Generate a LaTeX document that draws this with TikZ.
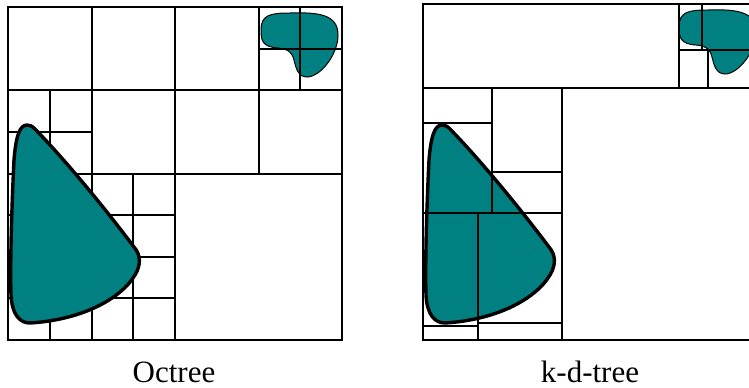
\documentclass[tikz,border=0pt]{standalone}
\usepackage{fontspec}
\setmainfont{Liberation Serif}
\usepackage{tikz}
\usetikzlibrary{positioning}
\definecolor{BlobTeal}{HTML}{008080}
\tikzset{
  % cell boundaries
  cellline/.style={line width=1pt,line cap=rect},
  % regions
  bigblob/.style={fill=BlobTeal,draw=black,line width=1.7pt},
  smallblob/.style={fill=BlobTeal,draw=black,line width=0.5pt},
  % captions
  caption/.style={font=\fontsize{15.5}{18}\selectfont,anchor=base,inner sep=0pt}
}
% outlines in pixel units (octree frame)
\newcommand{\BigBlobPath}{(27,125) .. controls (20,125) and (16,135) .. (14,160)
  .. controls (12,200) and (10,260) .. (11,295)
  .. controls (12,315) and (20,323) .. (30,323)
  .. controls (80,320) and (120,300) .. (135,275)
  .. controls (141,265) and (141,255) .. (134,247)
  .. controls (110,215) and (70,165) .. (35,129)
  .. controls (32,126) and (30,125) .. (27,125) -- cycle}
\newcommand{\SmallBlobPath}{(261,30) .. controls (261,15) and (270,13) .. (290,13)
  .. controls (320,12) and (338,15) .. (338,35)
  .. controls (338,55) and (320,77) .. (307,77)
  .. controls (298,77) and (296,68) .. (294,60)
  .. controls (292,52) and (288,49) .. (278,48)
  .. controls (262,47) and (261,40) .. (261,30) -- cycle}

\begin{document}
\begin{tikzpicture}[x=0.5pt,y=-0.5pt]
  \useasboundingbox (0,0) rectangle (749,387);
  \clip (0,0) rectangle (749,387);

  % --- Octree (left) ---
  \path[smallblob] \SmallBlobPath;
  \draw[cellline] (8,7) rectangle (342,340);
  \foreach \x in {91.5,175} \draw[cellline] (\x,7) -- (\x,340);
  \foreach \y in {90.25,173.5} \draw[cellline] (8,\y) -- (342,\y);
  \draw[cellline] (258.5,7) -- (258.5,173.5);
  \draw[cellline] (300.25,7) -- (300.25,90.25);
  \draw[cellline] (258.5,48.6) -- (342,48.6);
  \draw[cellline] (49.75,90.25) -- (49.75,340);
  \draw[cellline] (8,131.9) -- (91.5,131.9);
  \draw[cellline] (133.25,173.5) -- (133.25,340);
  \foreach \y in {215.1,256.75,298.4} \draw[cellline] (8,\y) -- (175,\y);
  \path[bigblob] \BigBlobPath;

  % --- k-d-tree (right) ---
  \begin{scope}[shift={(415,0)}]
    \path[bigblob] \BigBlobPath;
  \end{scope}
  \begin{scope}[shift={(418,-3)}]
    \path[smallblob] \SmallBlobPath;
  \end{scope}
  \draw[cellline] (423.3,4.3) rectangle (759,340);
  \draw[cellline] (423.3,88.3) -- (759,88.3);
  \draw[cellline] (678.7,4.3) -- (678.7,88.3);
  \draw[cellline] (702,4.3) -- (702,50);
  \draw[cellline] (678.7,50) -- (759,50);
  \draw[cellline] (708.3,50) -- (708.3,88.3);
  \draw[cellline] (561.7,88.3) -- (561.7,340);
  \draw[cellline] (491.7,88.3) -- (491.7,213.3);
  \draw[cellline] (423.3,213.3) -- (561.7,213.3);
  \draw[cellline] (423.3,122.7) -- (491.7,122.7);
  \draw[cellline] (491.7,171.7) -- (561.7,171.7);
  \draw[cellline] (477.7,213.3) -- (477.7,340);
  \draw[cellline] (423.3,326) -- (477.7,326);
  \draw[cellline] (477.7,322.7) -- (561.7,322.7);

  % captions
  \node[caption] (octlbl) at (174,382) {Octree};
  \node[caption] (kdlbl)  at (590,382) {k-d-tree};
\end{tikzpicture}
\end{document}
